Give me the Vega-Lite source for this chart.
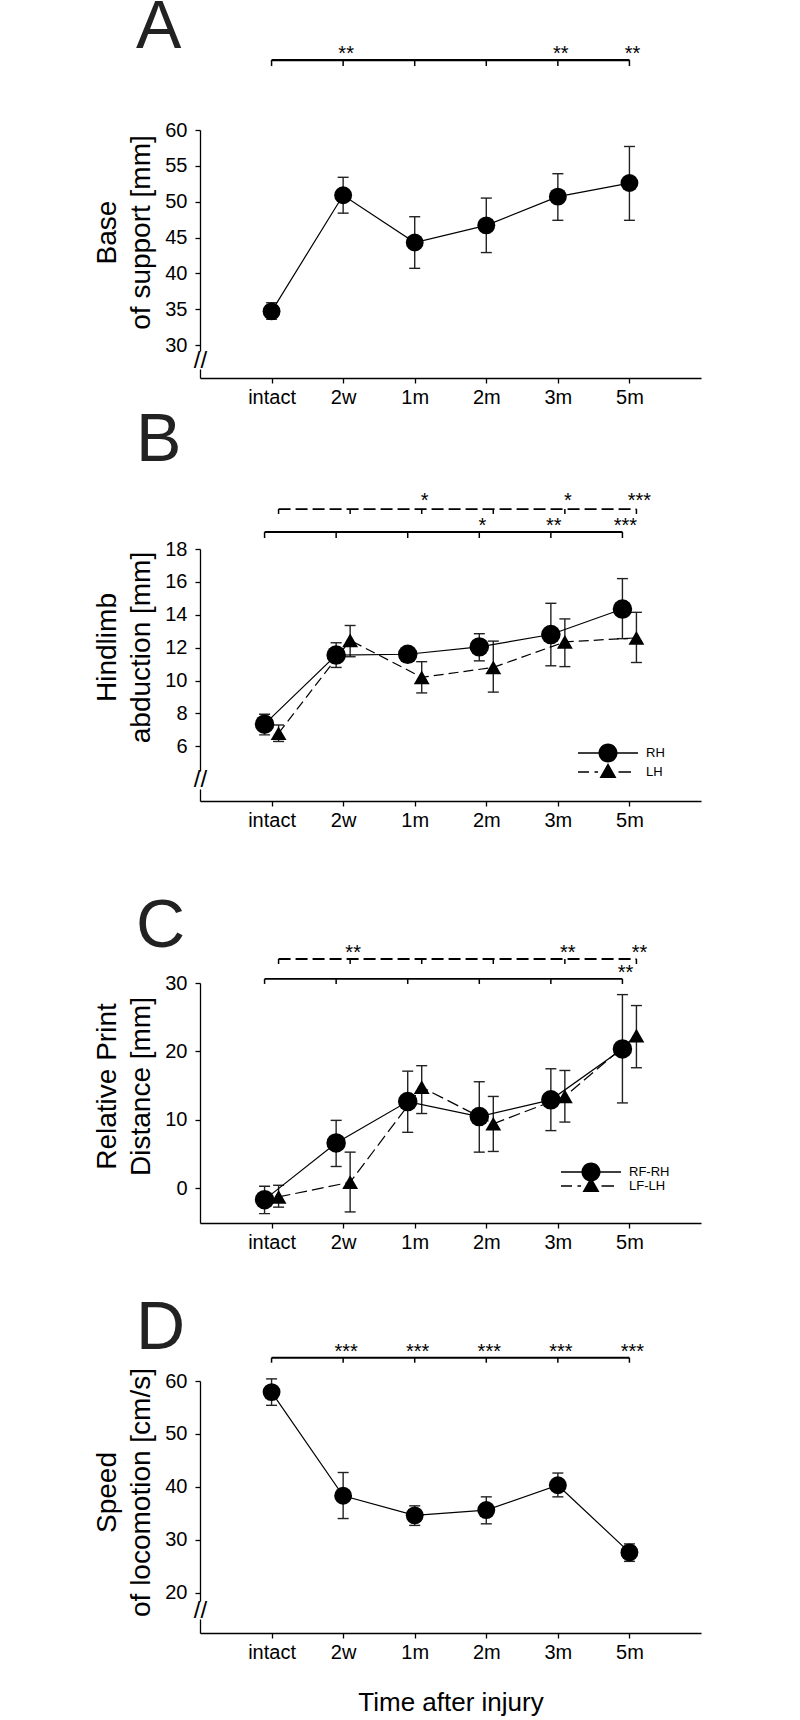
{
  "$schema": "https://vega.github.io/schema/vega-lite/v6.json",
  "padding": {"left": 93, "top": -6, "right": 10, "bottom": 5},
  "config": {
    "font": "Liberation Sans",
    "view": {"stroke": null},
    "axis": {"grid": false, "domainColor": "black", "tickColor": "black", "labelColor": "black", "titleColor": "black", "labelFontSize": 20, "titleFontSize": 28, "titleFontWeight": "normal", "tickSize": 5, "domainWidth": 1.3, "tickWidth": 1.3, "labelFont": "Liberation Sans", "titleFont": "Liberation Sans"},
    "axisX": {"labelPadding": 4, "labelAngle": 0},
    "axisY": {"labelPadding": 8, "titlePadding": 9, "titleLineHeight": 34, "labelOverlap": false, "labelFlush": false},
    "title": {"fontSize": 68, "fontWeight": "normal", "anchor": "start", "frame": "group", "color": "#222", "dx": -64, "baseline": "alphabetic", "font": "Liberation Sans"},
    "legend": {"title": null, "padding": 0, "labelFontSize": 13, "labelColor": "black", "labelFont": "Liberation Sans", "labelOffset": 28, "symbolSize": 400, "symbolFillColor": "black", "symbolStrokeColor": "black", "symbolStrokeWidth": 0, "symbolOpacity": 1, "orient": "none"},
    "text": {"font": "Liberation Sans"}
  },
  "datasets": {
    "means": [
      {"panel": "A", "series": "S", "time": "intact", "mean": 34.7, "lo": 33.6, "hi": 35.9},
      {"panel": "A", "series": "S", "time": "2w", "mean": 50.9, "lo": 48.4, "hi": 53.4},
      {"panel": "A", "series": "S", "time": "1m", "mean": 44.3, "lo": 40.7, "hi": 47.9},
      {"panel": "A", "series": "S", "time": "2m", "mean": 46.7, "lo": 42.9, "hi": 50.5},
      {"panel": "A", "series": "S", "time": "3m", "mean": 50.7, "lo": 47.4, "hi": 53.9},
      {"panel": "A", "series": "S", "time": "5m", "mean": 52.6, "lo": 47.4, "hi": 57.7},
      {"panel": "B", "series": "RH", "time": "intact", "mean": 7.35, "lo": 6.7, "hi": 7.95},
      {"panel": "B", "series": "RH", "time": "2w", "mean": 11.55, "lo": 10.8, "hi": 12.3},
      {"panel": "B", "series": "RH", "time": "1m", "mean": 11.6, "lo": 11.45, "hi": 11.75},
      {"panel": "B", "series": "RH", "time": "2m", "mean": 12.05, "lo": 11.2, "hi": 12.85},
      {"panel": "B", "series": "RH", "time": "3m", "mean": 12.8, "lo": 10.9, "hi": 14.7},
      {"panel": "B", "series": "RH", "time": "5m", "mean": 14.35, "lo": 12.55, "hi": 16.2},
      {"panel": "B", "series": "LH", "time": "intact", "mean": 6.8, "lo": 6.3, "hi": 7.3},
      {"panel": "B", "series": "LH", "time": "2w", "mean": 12.45, "lo": 11.45, "hi": 13.35},
      {"panel": "B", "series": "LH", "time": "1m", "mean": 10.2, "lo": 9.25, "hi": 11.15},
      {"panel": "B", "series": "LH", "time": "2m", "mean": 10.8, "lo": 9.3, "hi": 12.4},
      {"panel": "B", "series": "LH", "time": "3m", "mean": 12.35, "lo": 10.85, "hi": 13.75},
      {"panel": "B", "series": "LH", "time": "5m", "mean": 12.6, "lo": 11.1, "hi": 14.15},
      {"panel": "C", "series": "RF-RH", "time": "intact", "mean": -1.7, "lo": -3.75, "hi": 0.25},
      {"panel": "C", "series": "RF-RH", "time": "2w", "mean": 6.6, "lo": 3.15, "hi": 9.9},
      {"panel": "C", "series": "RF-RH", "time": "1m", "mean": 12.65, "lo": 8.15, "hi": 17.1},
      {"panel": "C", "series": "RF-RH", "time": "2m", "mean": 10.45, "lo": 5.25, "hi": 15.55},
      {"panel": "C", "series": "RF-RH", "time": "3m", "mean": 12.9, "lo": 8.4, "hi": 17.45},
      {"panel": "C", "series": "RF-RH", "time": "5m", "mean": 20.35, "lo": 12.45, "hi": 28.3},
      {"panel": "C", "series": "LF-LH", "time": "intact", "mean": -1.3, "lo": -2.8, "hi": 0.4},
      {"panel": "C", "series": "LF-LH", "time": "2w", "mean": 0.85, "lo": -3.5, "hi": 5.25},
      {"panel": "C", "series": "LF-LH", "time": "1m", "mean": 14.75, "lo": 10.9, "hi": 17.9},
      {"panel": "C", "series": "LF-LH", "time": "2m", "mean": 9.4, "lo": 5.35, "hi": 13.4},
      {"panel": "C", "series": "LF-LH", "time": "3m", "mean": 13.4, "lo": 9.65, "hi": 17.2},
      {"panel": "C", "series": "LF-LH", "time": "5m", "mean": 22.3, "lo": 17.6, "hi": 26.7},
      {"panel": "D", "series": "S", "time": "intact", "mean": 57.9, "lo": 55.4, "hi": 60.4},
      {"panel": "D", "series": "S", "time": "2w", "mean": 38.3, "lo": 34.0, "hi": 42.7},
      {"panel": "D", "series": "S", "time": "1m", "mean": 34.6, "lo": 32.7, "hi": 36.4},
      {"panel": "D", "series": "S", "time": "2m", "mean": 35.6, "lo": 33.0, "hi": 38.1},
      {"panel": "D", "series": "S", "time": "3m", "mean": 40.3, "lo": 38.1, "hi": 42.6},
      {"panel": "D", "series": "S", "time": "5m", "mean": 27.6, "lo": 25.9, "hi": 29.2}
    ],
    "sigbars": [
      {"panel": "A", "bar": "solid", "from": "intact", "to": "5m"},
      {"panel": "B", "bar": "solid", "from": "intact", "to": "5m"},
      {"panel": "B", "bar": "dashed", "from": "intact", "to": "5m"},
      {"panel": "C", "bar": "solid", "from": "intact", "to": "5m"},
      {"panel": "C", "bar": "dashed", "from": "intact", "to": "5m"},
      {"panel": "D", "bar": "solid", "from": "intact", "to": "5m"}
    ],
    "sigmarks": [
      {"panel": "A", "bar": "solid", "time": "intact", "stars": ""},
      {"panel": "A", "bar": "solid", "time": "2w", "stars": "**"},
      {"panel": "A", "bar": "solid", "time": "1m", "stars": ""},
      {"panel": "A", "bar": "solid", "time": "2m", "stars": ""},
      {"panel": "A", "bar": "solid", "time": "3m", "stars": "**"},
      {"panel": "A", "bar": "solid", "time": "5m", "stars": "**"},
      {"panel": "B", "bar": "solid", "time": "intact", "stars": ""},
      {"panel": "B", "bar": "solid", "time": "2w", "stars": ""},
      {"panel": "B", "bar": "solid", "time": "1m", "stars": ""},
      {"panel": "B", "bar": "solid", "time": "2m", "stars": "*"},
      {"panel": "B", "bar": "solid", "time": "3m", "stars": "**"},
      {"panel": "B", "bar": "solid", "time": "5m", "stars": "***"},
      {"panel": "B", "bar": "dashed", "time": "intact", "stars": ""},
      {"panel": "B", "bar": "dashed", "time": "2w", "stars": ""},
      {"panel": "B", "bar": "dashed", "time": "1m", "stars": "*"},
      {"panel": "B", "bar": "dashed", "time": "2m", "stars": ""},
      {"panel": "B", "bar": "dashed", "time": "3m", "stars": "*"},
      {"panel": "B", "bar": "dashed", "time": "5m", "stars": "***"},
      {"panel": "C", "bar": "solid", "time": "intact", "stars": ""},
      {"panel": "C", "bar": "solid", "time": "2w", "stars": ""},
      {"panel": "C", "bar": "solid", "time": "1m", "stars": ""},
      {"panel": "C", "bar": "solid", "time": "2m", "stars": ""},
      {"panel": "C", "bar": "solid", "time": "3m", "stars": ""},
      {"panel": "C", "bar": "solid", "time": "5m", "stars": "**"},
      {"panel": "C", "bar": "dashed", "time": "intact", "stars": ""},
      {"panel": "C", "bar": "dashed", "time": "2w", "stars": "**"},
      {"panel": "C", "bar": "dashed", "time": "1m", "stars": ""},
      {"panel": "C", "bar": "dashed", "time": "2m", "stars": ""},
      {"panel": "C", "bar": "dashed", "time": "3m", "stars": "**"},
      {"panel": "C", "bar": "dashed", "time": "5m", "stars": "**"},
      {"panel": "D", "bar": "solid", "time": "intact", "stars": ""},
      {"panel": "D", "bar": "solid", "time": "2w", "stars": "***"},
      {"panel": "D", "bar": "solid", "time": "1m", "stars": "***"},
      {"panel": "D", "bar": "solid", "time": "2m", "stars": "***"},
      {"panel": "D", "bar": "solid", "time": "3m", "stars": "***"},
      {"panel": "D", "bar": "solid", "time": "5m", "stars": "***"}
    ]
  },
  "spacing": 150,
  "bounds": "flush",
  "resolve": {"scale": {"fill": "independent", "stroke": "independent"}, "legend": {"fill": "independent", "stroke": "independent"}},
  "vconcat": [
    {
      "width": 501, "height": 248,
      "title": {"text": "A", "offset": -18},
      "encoding": {
        "x": {"field": "time", "type": "ordinal", "scale": {"type": "point", "domain": ["intact", "2w", "1m", "2m", "3m", "5m"], "padding": 1}, "axis": {"title": null}}
      },
      "layer": [
        {"data": {"name": "means"}, "transform": [{"filter": "datum.panel == 'A'"}], "mark": {"type": "rule", "color": "#222", "strokeWidth": 1.4},
          "encoding": {"y": {"field": "lo", "type": "quantitative", "axis": {"title": ["Base", "of support [mm]"], "titleY": 102, "values": [27.9, 30, 35, 40, 45, 50, 55, 60], "labelOverlap": false, "labelExpr": "datum.value < 29 ? '//' : datum.label", "labelAlign": {"condition": {"test": "datum.value < 29", "value": "center"}, "value": "right"}, "labelPadding": {"condition": {"test": "datum.value < 29", "value": -5}, "value": 8}, "labelFontSize": {"condition": {"test": "datum.value < 29", "value": 24}, "value": 20}, "tickOpacity": {"condition": {"test": "datum.value < 29", "value": 0}, "value": 1}, "domainDash": [9, 18, 1000]}}, "y2": {"field": "hi"}}},
        {"data": {"name": "means"}, "transform": [{"filter": "datum.panel == 'A'"}], "mark": {"type": "tick", "color": "#222", "thickness": 1.4, "size": 11, "opacity": 1},
          "encoding": {"y": {"field": "lo", "type": "quantitative", "axis": {"title": ["Base", "of support [mm]"], "titleY": 102, "values": [27.9, 30, 35, 40, 45, 50, 55, 60], "labelOverlap": false, "labelExpr": "datum.value < 29 ? '//' : datum.label", "labelAlign": {"condition": {"test": "datum.value < 29", "value": "center"}, "value": "right"}, "labelPadding": {"condition": {"test": "datum.value < 29", "value": -5}, "value": 8}, "labelFontSize": {"condition": {"test": "datum.value < 29", "value": 24}, "value": 20}, "tickOpacity": {"condition": {"test": "datum.value < 29", "value": 0}, "value": 1}, "domainDash": [9, 18, 1000]}}}},
        {"data": {"name": "means"}, "transform": [{"filter": "datum.panel == 'A'"}], "mark": {"type": "tick", "color": "#222", "thickness": 1.4, "size": 11, "opacity": 1},
          "encoding": {"y": {"field": "hi", "type": "quantitative", "axis": {"title": ["Base", "of support [mm]"], "titleY": 102, "values": [27.9, 30, 35, 40, 45, 50, 55, 60], "labelOverlap": false, "labelExpr": "datum.value < 29 ? '//' : datum.label", "labelAlign": {"condition": {"test": "datum.value < 29", "value": "center"}, "value": "right"}, "labelPadding": {"condition": {"test": "datum.value < 29", "value": -5}, "value": 8}, "labelFontSize": {"condition": {"test": "datum.value < 29", "value": 24}, "value": 20}, "tickOpacity": {"condition": {"test": "datum.value < 29", "value": 0}, "value": 1}, "domainDash": [9, 18, 1000]}}}},
        {"data": {"name": "means"}, "transform": [{"filter": "datum.panel == 'A'"}], "mark": {"type": "line", "color": "black", "strokeWidth": 1.2},
          "encoding": {"y": {"field": "mean", "type": "quantitative", "axis": {"title": ["Base", "of support [mm]"], "titleY": 102, "values": [27.9, 30, 35, 40, 45, 50, 55, 60], "labelOverlap": false, "labelExpr": "datum.value < 29 ? '//' : datum.label", "labelAlign": {"condition": {"test": "datum.value < 29", "value": "center"}, "value": "right"}, "labelPadding": {"condition": {"test": "datum.value < 29", "value": -5}, "value": 8}, "labelFontSize": {"condition": {"test": "datum.value < 29", "value": 24}, "value": 20}, "tickOpacity": {"condition": {"test": "datum.value < 29", "value": 0}, "value": 1}, "domainDash": [9, 18, 1000]}}, "order": {"value": null}}},
        {"data": {"name": "means"}, "transform": [{"filter": "datum.panel == 'A'"}], "mark": {"type": "point", "filled": true, "color": "black", "opacity": 1, "shape": "circle", "size": 320},
          "encoding": {"y": {"field": "mean", "type": "quantitative", "scale": {"domain": [25.4, 60], "nice": false, "zero": false}, "axis": {"title": ["Base", "of support [mm]"], "titleY": 102, "values": [27.9, 30, 35, 40, 45, 50, 55, 60], "labelOverlap": false, "labelExpr": "datum.value < 29 ? '//' : datum.label", "labelAlign": {"condition": {"test": "datum.value < 29", "value": "center"}, "value": "right"}, "labelPadding": {"condition": {"test": "datum.value < 29", "value": -5}, "value": 8}, "labelFontSize": {"condition": {"test": "datum.value < 29", "value": 24}, "value": 20}, "tickOpacity": {"condition": {"test": "datum.value < 29", "value": 0}, "value": 1}, "domainDash": [9, 18, 1000]}}}},
        {"data": {"name": "sigbars"}, "transform": [{"filter": "datum.panel == 'A'"}], "mark": {"type": "rule", "color": "black", "strokeWidth": 2.2},
          "encoding": {"x": {"field": "from", "type": "ordinal"}, "x2": {"field": "to"}, "y": {"datum": 69.76, "type": "quantitative", "axis": {"title": ["Base", "of support [mm]"], "titleY": 102, "values": [27.9, 30, 35, 40, 45, 50, 55, 60], "labelOverlap": false, "labelExpr": "datum.value < 29 ? '//' : datum.label", "labelAlign": {"condition": {"test": "datum.value < 29", "value": "center"}, "value": "right"}, "labelPadding": {"condition": {"test": "datum.value < 29", "value": -5}, "value": 8}, "labelFontSize": {"condition": {"test": "datum.value < 29", "value": 24}, "value": 20}, "tickOpacity": {"condition": {"test": "datum.value < 29", "value": 0}, "value": 1}, "domainDash": [9, 18, 1000]}}}},
        {"data": {"name": "sigmarks"}, "transform": [{"filter": "datum.panel == 'A'"}], "mark": {"type": "rule", "color": "black", "strokeWidth": 1.5},
          "encoding": {"y": {"datum": 69.76, "type": "quantitative", "axis": {"title": ["Base", "of support [mm]"], "titleY": 102, "values": [27.9, 30, 35, 40, 45, 50, 55, 60], "labelOverlap": false, "labelExpr": "datum.value < 29 ? '//' : datum.label", "labelAlign": {"condition": {"test": "datum.value < 29", "value": "center"}, "value": "right"}, "labelPadding": {"condition": {"test": "datum.value < 29", "value": -5}, "value": 8}, "labelFontSize": {"condition": {"test": "datum.value < 29", "value": 24}, "value": 20}, "tickOpacity": {"condition": {"test": "datum.value < 29", "value": 0}, "value": 1}, "domainDash": [9, 18, 1000]}}, "y2": {"datum": 68.92}}},
        {"data": {"name": "sigmarks"}, "transform": [{"filter": "datum.panel == 'A'"}], "mark": {"type": "text", "fontSize": 20, "baseline": "alphabetic", "dx": 3, "color": "black"},
          "encoding": {"y": {"datum": 69.76, "type": "quantitative", "axis": {"title": ["Base", "of support [mm]"], "titleY": 102, "values": [27.9, 30, 35, 40, 45, 50, 55, 60], "labelOverlap": false, "labelExpr": "datum.value < 29 ? '//' : datum.label", "labelAlign": {"condition": {"test": "datum.value < 29", "value": "center"}, "value": "right"}, "labelPadding": {"condition": {"test": "datum.value < 29", "value": -5}, "value": 8}, "labelFontSize": {"condition": {"test": "datum.value < 29", "value": 24}, "value": 20}, "tickOpacity": {"condition": {"test": "datum.value < 29", "value": 0}, "value": 1}, "domainDash": [9, 18, 1000]}}, "text": {"field": "stars", "type": "nominal"}}}
      ]
    },
    {
      "width": 501, "height": 273,
      "title": {"text": "B", "offset": 16},
      "encoding": {
        "x": {"field": "time", "type": "ordinal", "scale": {"type": "point", "domain": ["intact", "2w", "1m", "2m", "3m", "5m"], "padding": 1}, "axis": {"title": null}}
      },
      "layer": [
        {"data": {"name": "means"}, "transform": [{"filter": "datum.panel == 'B' && datum.series == 'RH'"}], "mark": {"type": "rule", "color": "#222", "strokeWidth": 1.4, "xOffset": -7},
          "encoding": {"y": {"field": "lo", "type": "quantitative", "axis": {"title": ["Hindlimb", "abduction [mm]"], "titleY": 119, "values": [3.97, 6, 8, 10, 12, 14, 16, 18], "labelOverlap": false, "labelExpr": "datum.value < 5 ? '//' : datum.label", "labelAlign": {"condition": {"test": "datum.value < 5", "value": "center"}, "value": "right"}, "labelPadding": {"condition": {"test": "datum.value < 5", "value": -5}, "value": 8}, "labelFontSize": {"condition": {"test": "datum.value < 5", "value": 24}, "value": 20}, "tickOpacity": {"condition": {"test": "datum.value < 5", "value": 0}, "value": 1}, "domainDash": [12, 18, 1000]}}, "y2": {"field": "hi"}}},
        {"data": {"name": "means"}, "transform": [{"filter": "datum.panel == 'B' && datum.series == 'RH'"}], "mark": {"type": "tick", "color": "#222", "thickness": 1.4, "size": 11, "opacity": 1, "xOffset": -7},
          "encoding": {"y": {"field": "lo", "type": "quantitative", "axis": {"title": ["Hindlimb", "abduction [mm]"], "titleY": 119, "values": [3.97, 6, 8, 10, 12, 14, 16, 18], "labelOverlap": false, "labelExpr": "datum.value < 5 ? '//' : datum.label", "labelAlign": {"condition": {"test": "datum.value < 5", "value": "center"}, "value": "right"}, "labelPadding": {"condition": {"test": "datum.value < 5", "value": -5}, "value": 8}, "labelFontSize": {"condition": {"test": "datum.value < 5", "value": 24}, "value": 20}, "tickOpacity": {"condition": {"test": "datum.value < 5", "value": 0}, "value": 1}, "domainDash": [12, 18, 1000]}}}},
        {"data": {"name": "means"}, "transform": [{"filter": "datum.panel == 'B' && datum.series == 'RH'"}], "mark": {"type": "tick", "color": "#222", "thickness": 1.4, "size": 11, "opacity": 1, "xOffset": -7},
          "encoding": {"y": {"field": "hi", "type": "quantitative", "axis": {"title": ["Hindlimb", "abduction [mm]"], "titleY": 119, "values": [3.97, 6, 8, 10, 12, 14, 16, 18], "labelOverlap": false, "labelExpr": "datum.value < 5 ? '//' : datum.label", "labelAlign": {"condition": {"test": "datum.value < 5", "value": "center"}, "value": "right"}, "labelPadding": {"condition": {"test": "datum.value < 5", "value": -5}, "value": 8}, "labelFontSize": {"condition": {"test": "datum.value < 5", "value": 24}, "value": 20}, "tickOpacity": {"condition": {"test": "datum.value < 5", "value": 0}, "value": 1}, "domainDash": [12, 18, 1000]}}}},
        {"data": {"name": "means"}, "transform": [{"filter": "datum.panel == 'B' && datum.series == 'LH'"}], "mark": {"type": "rule", "color": "#222", "strokeWidth": 1.4, "xOffset": 7},
          "encoding": {"y": {"field": "lo", "type": "quantitative", "axis": {"title": ["Hindlimb", "abduction [mm]"], "titleY": 119, "values": [3.97, 6, 8, 10, 12, 14, 16, 18], "labelOverlap": false, "labelExpr": "datum.value < 5 ? '//' : datum.label", "labelAlign": {"condition": {"test": "datum.value < 5", "value": "center"}, "value": "right"}, "labelPadding": {"condition": {"test": "datum.value < 5", "value": -5}, "value": 8}, "labelFontSize": {"condition": {"test": "datum.value < 5", "value": 24}, "value": 20}, "tickOpacity": {"condition": {"test": "datum.value < 5", "value": 0}, "value": 1}, "domainDash": [12, 18, 1000]}}, "y2": {"field": "hi"}}},
        {"data": {"name": "means"}, "transform": [{"filter": "datum.panel == 'B' && datum.series == 'LH'"}], "mark": {"type": "tick", "color": "#222", "thickness": 1.4, "size": 11, "opacity": 1, "xOffset": 7},
          "encoding": {"y": {"field": "lo", "type": "quantitative", "axis": {"title": ["Hindlimb", "abduction [mm]"], "titleY": 119, "values": [3.97, 6, 8, 10, 12, 14, 16, 18], "labelOverlap": false, "labelExpr": "datum.value < 5 ? '//' : datum.label", "labelAlign": {"condition": {"test": "datum.value < 5", "value": "center"}, "value": "right"}, "labelPadding": {"condition": {"test": "datum.value < 5", "value": -5}, "value": 8}, "labelFontSize": {"condition": {"test": "datum.value < 5", "value": 24}, "value": 20}, "tickOpacity": {"condition": {"test": "datum.value < 5", "value": 0}, "value": 1}, "domainDash": [12, 18, 1000]}}}},
        {"data": {"name": "means"}, "transform": [{"filter": "datum.panel == 'B' && datum.series == 'LH'"}], "mark": {"type": "tick", "color": "#222", "thickness": 1.4, "size": 11, "opacity": 1, "xOffset": 7},
          "encoding": {"y": {"field": "hi", "type": "quantitative", "axis": {"title": ["Hindlimb", "abduction [mm]"], "titleY": 119, "values": [3.97, 6, 8, 10, 12, 14, 16, 18], "labelOverlap": false, "labelExpr": "datum.value < 5 ? '//' : datum.label", "labelAlign": {"condition": {"test": "datum.value < 5", "value": "center"}, "value": "right"}, "labelPadding": {"condition": {"test": "datum.value < 5", "value": -5}, "value": 8}, "labelFontSize": {"condition": {"test": "datum.value < 5", "value": 24}, "value": 20}, "tickOpacity": {"condition": {"test": "datum.value < 5", "value": 0}, "value": 1}, "domainDash": [12, 18, 1000]}}}},
        {"data": {"name": "means"}, "transform": [{"filter": "datum.panel == 'B' && datum.series == 'RH'"}], "mark": {"type": "line", "color": "black", "strokeWidth": 1.2, "xOffset": -7},
          "encoding": {"y": {"field": "mean", "type": "quantitative", "axis": {"title": ["Hindlimb", "abduction [mm]"], "titleY": 119, "values": [3.97, 6, 8, 10, 12, 14, 16, 18], "labelOverlap": false, "labelExpr": "datum.value < 5 ? '//' : datum.label", "labelAlign": {"condition": {"test": "datum.value < 5", "value": "center"}, "value": "right"}, "labelPadding": {"condition": {"test": "datum.value < 5", "value": -5}, "value": 8}, "labelFontSize": {"condition": {"test": "datum.value < 5", "value": 24}, "value": 20}, "tickOpacity": {"condition": {"test": "datum.value < 5", "value": 0}, "value": 1}, "domainDash": [12, 18, 1000]}}, "order": {"value": null}}},
        {"data": {"name": "means"}, "transform": [{"filter": "datum.panel == 'B' && datum.series == 'LH'"}], "mark": {"type": "line", "color": "black", "strokeWidth": 1.2, "xOffset": 7, "strokeDash": [10, 5]},
          "encoding": {"y": {"field": "mean", "type": "quantitative", "axis": {"title": ["Hindlimb", "abduction [mm]"], "titleY": 119, "values": [3.97, 6, 8, 10, 12, 14, 16, 18], "labelOverlap": false, "labelExpr": "datum.value < 5 ? '//' : datum.label", "labelAlign": {"condition": {"test": "datum.value < 5", "value": "center"}, "value": "right"}, "labelPadding": {"condition": {"test": "datum.value < 5", "value": -5}, "value": 8}, "labelFontSize": {"condition": {"test": "datum.value < 5", "value": 24}, "value": 20}, "tickOpacity": {"condition": {"test": "datum.value < 5", "value": 0}, "value": 1}, "domainDash": [12, 18, 1000]}}, "order": {"value": null}}},
        {"data": {"name": "means"}, "transform": [{"filter": "datum.panel == 'B' && datum.series == 'LH'"}], "mark": {"type": "point", "filled": true, "color": "black", "opacity": 1, "shape": "triangle-up", "size": 250, "xOffset": 7},
          "encoding": {"y": {"field": "mean", "type": "quantitative", "axis": {"title": ["Hindlimb", "abduction [mm]"], "titleY": 119, "values": [3.97, 6, 8, 10, 12, 14, 16, 18], "labelOverlap": false, "labelExpr": "datum.value < 5 ? '//' : datum.label", "labelAlign": {"condition": {"test": "datum.value < 5", "value": "center"}, "value": "right"}, "labelPadding": {"condition": {"test": "datum.value < 5", "value": -5}, "value": 8}, "labelFontSize": {"condition": {"test": "datum.value < 5", "value": 24}, "value": 20}, "tickOpacity": {"condition": {"test": "datum.value < 5", "value": 0}, "value": 1}, "domainDash": [12, 18, 1000]}}}},
        {"data": {"name": "means"}, "transform": [{"filter": "datum.panel == 'B' && datum.series == 'RH'"}], "mark": {"type": "point", "filled": true, "color": "black", "opacity": 1, "shape": "circle", "size": 380, "xOffset": -7},
          "encoding": {"y": {"field": "mean", "type": "quantitative", "scale": {"domain": [2.68, 18], "range": [273, 21], "nice": false, "zero": false}, "axis": {"title": ["Hindlimb", "abduction [mm]"], "titleY": 119, "values": [3.97, 6, 8, 10, 12, 14, 16, 18], "labelOverlap": false, "labelExpr": "datum.value < 5 ? '//' : datum.label", "labelAlign": {"condition": {"test": "datum.value < 5", "value": "center"}, "value": "right"}, "labelPadding": {"condition": {"test": "datum.value < 5", "value": -5}, "value": 8}, "labelFontSize": {"condition": {"test": "datum.value < 5", "value": 24}, "value": 20}, "tickOpacity": {"condition": {"test": "datum.value < 5", "value": 0}, "value": 1}, "domainDash": [12, 18, 1000]}}}},
        {"data": {"name": "sigbars"}, "transform": [{"filter": "datum.panel == 'B' && datum.bar == 'solid'"}], "mark": {"type": "rule", "color": "black", "strokeWidth": 2, "xOffset": -7, "x2Offset": -7},
          "encoding": {"x": {"field": "from", "type": "ordinal"}, "x2": {"field": "to"}, "y": {"datum": 19.03, "type": "quantitative", "axis": {"title": ["Hindlimb", "abduction [mm]"], "titleY": 119, "values": [3.97, 6, 8, 10, 12, 14, 16, 18], "labelOverlap": false, "labelExpr": "datum.value < 5 ? '//' : datum.label", "labelAlign": {"condition": {"test": "datum.value < 5", "value": "center"}, "value": "right"}, "labelPadding": {"condition": {"test": "datum.value < 5", "value": -5}, "value": 8}, "labelFontSize": {"condition": {"test": "datum.value < 5", "value": 24}, "value": 20}, "tickOpacity": {"condition": {"test": "datum.value < 5", "value": 0}, "value": 1}, "domainDash": [12, 18, 1000]}}}},
        {"data": {"name": "sigmarks"}, "transform": [{"filter": "datum.panel == 'B' && datum.bar == 'solid'"}], "mark": {"type": "rule", "color": "black", "strokeWidth": 1.5, "xOffset": -7},
          "encoding": {"y": {"datum": 19.03, "type": "quantitative", "axis": {"title": ["Hindlimb", "abduction [mm]"], "titleY": 119, "values": [3.97, 6, 8, 10, 12, 14, 16, 18], "labelOverlap": false, "labelExpr": "datum.value < 5 ? '//' : datum.label", "labelAlign": {"condition": {"test": "datum.value < 5", "value": "center"}, "value": "right"}, "labelPadding": {"condition": {"test": "datum.value < 5", "value": -5}, "value": 8}, "labelFontSize": {"condition": {"test": "datum.value < 5", "value": 24}, "value": 20}, "tickOpacity": {"condition": {"test": "datum.value < 5", "value": 0}, "value": 1}, "domainDash": [12, 18, 1000]}}, "y2": {"datum": 18.67}}},
        {"data": {"name": "sigmarks"}, "transform": [{"filter": "datum.panel == 'B' && datum.bar == 'solid'"}], "mark": {"type": "text", "fontSize": 20, "baseline": "alphabetic", "dx": -4, "color": "black"},
          "encoding": {"y": {"datum": 19.03, "type": "quantitative", "axis": {"title": ["Hindlimb", "abduction [mm]"], "titleY": 119, "values": [3.97, 6, 8, 10, 12, 14, 16, 18], "labelOverlap": false, "labelExpr": "datum.value < 5 ? '//' : datum.label", "labelAlign": {"condition": {"test": "datum.value < 5", "value": "center"}, "value": "right"}, "labelPadding": {"condition": {"test": "datum.value < 5", "value": -5}, "value": 8}, "labelFontSize": {"condition": {"test": "datum.value < 5", "value": 24}, "value": 20}, "tickOpacity": {"condition": {"test": "datum.value < 5", "value": 0}, "value": 1}, "domainDash": [12, 18, 1000]}}, "text": {"field": "stars", "type": "nominal"}}},
        {"data": {"name": "sigbars"}, "transform": [{"filter": "datum.panel == 'B' && datum.bar == 'dashed'"}], "mark": {"type": "rule", "color": "black", "strokeWidth": 1.8, "xOffset": 7, "x2Offset": 7, "strokeDash": [12, 5]},
          "encoding": {"x": {"field": "from", "type": "ordinal"}, "x2": {"field": "to"}, "y": {"datum": 20.43, "type": "quantitative", "axis": {"title": ["Hindlimb", "abduction [mm]"], "titleY": 119, "values": [3.97, 6, 8, 10, 12, 14, 16, 18], "labelOverlap": false, "labelExpr": "datum.value < 5 ? '//' : datum.label", "labelAlign": {"condition": {"test": "datum.value < 5", "value": "center"}, "value": "right"}, "labelPadding": {"condition": {"test": "datum.value < 5", "value": -5}, "value": 8}, "labelFontSize": {"condition": {"test": "datum.value < 5", "value": 24}, "value": 20}, "tickOpacity": {"condition": {"test": "datum.value < 5", "value": 0}, "value": 1}, "domainDash": [12, 18, 1000]}}}},
        {"data": {"name": "sigmarks"}, "transform": [{"filter": "datum.panel == 'B' && datum.bar == 'dashed'"}], "mark": {"type": "rule", "color": "black", "strokeWidth": 1.5, "xOffset": 7},
          "encoding": {"y": {"datum": 20.43, "type": "quantitative", "axis": {"title": ["Hindlimb", "abduction [mm]"], "titleY": 119, "values": [3.97, 6, 8, 10, 12, 14, 16, 18], "labelOverlap": false, "labelExpr": "datum.value < 5 ? '//' : datum.label", "labelAlign": {"condition": {"test": "datum.value < 5", "value": "center"}, "value": "right"}, "labelPadding": {"condition": {"test": "datum.value < 5", "value": -5}, "value": 8}, "labelFontSize": {"condition": {"test": "datum.value < 5", "value": 24}, "value": 20}, "tickOpacity": {"condition": {"test": "datum.value < 5", "value": 0}, "value": 1}, "domainDash": [12, 18, 1000]}}, "y2": {"datum": 20.13}}},
        {"data": {"name": "sigmarks"}, "transform": [{"filter": "datum.panel == 'B' && datum.bar == 'dashed'"}], "mark": {"type": "text", "fontSize": 20, "baseline": "alphabetic", "dx": 10, "dy": -2, "color": "black"},
          "encoding": {"y": {"datum": 20.43, "type": "quantitative", "axis": {"title": ["Hindlimb", "abduction [mm]"], "titleY": 119, "values": [3.97, 6, 8, 10, 12, 14, 16, 18], "labelOverlap": false, "labelExpr": "datum.value < 5 ? '//' : datum.label", "labelAlign": {"condition": {"test": "datum.value < 5", "value": "center"}, "value": "right"}, "labelPadding": {"condition": {"test": "datum.value < 5", "value": -5}, "value": 8}, "labelFontSize": {"condition": {"test": "datum.value < 5", "value": 24}, "value": 20}, "tickOpacity": {"condition": {"test": "datum.value < 5", "value": 0}, "value": 1}, "domainDash": [12, 18, 1000]}}, "text": {"field": "stars", "type": "nominal"}}},
        {"data": {"name": "means"}, "transform": [{"filter": "false"}], "mark": {"type": "point", "filled": true, "color": "black", "opacity": 1, "size": 400},
          "encoding": {"fill": {"field": "series", "type": "nominal", "scale": {"domain": ["RH"], "range": ["black"]},
            "legend": {"legendX": 398, "legendY": 215, "symbolType": "M-3,-0.07H3V0.07H-3ZM0.95,0A0.95,0.95,0,1,1,-0.95,0A0.95,0.95,0,1,1,0.95,0Z"}}}},
        {"data": {"name": "means"}, "transform": [{"filter": "false"}], "mark": {"type": "point", "filled": true, "color": "black", "opacity": 1, "size": 400},
          "encoding": {"stroke": {"field": "time", "type": "nominal", "scale": {"domain": ["LH"], "range": ["black"]},
            "legend": {"legendX": 398, "legendY": 234, "symbolType": "M-3,-0.07H-1.9V0.07H-3ZM-1.35,-0.07H-1V0.07H-1.35ZM1.05,-0.07H2.3V0.07H1.05ZM0,-0.9L0.85,0.6L-0.85,0.6Z"}}}}
      ]
    },
    {
      "width": 501, "height": 272,
      "title": {"text": "C", "offset": -18},
      "encoding": {
        "x": {"field": "time", "type": "ordinal", "scale": {"type": "point", "domain": ["intact", "2w", "1m", "2m", "3m", "5m"], "padding": 1}, "axis": {"title": null}}
      },
      "layer": [
        {"data": {"name": "means"}, "transform": [{"filter": "datum.panel == 'C' && datum.series == 'RF-RH'"}], "mark": {"type": "rule", "color": "#222", "strokeWidth": 1.4, "xOffset": -7}, "encoding": {"y": {"field": "lo", "type": "quantitative"}, "y2": {"field": "hi"}}},
        {"data": {"name": "means"}, "transform": [{"filter": "datum.panel == 'C' && datum.series == 'RF-RH'"}], "mark": {"type": "tick", "color": "#222", "thickness": 1.4, "size": 11, "opacity": 1, "xOffset": -7}, "encoding": {"y": {"field": "lo", "type": "quantitative"}}},
        {"data": {"name": "means"}, "transform": [{"filter": "datum.panel == 'C' && datum.series == 'RF-RH'"}], "mark": {"type": "tick", "color": "#222", "thickness": 1.4, "size": 11, "opacity": 1, "xOffset": -7}, "encoding": {"y": {"field": "hi", "type": "quantitative"}}},
        {"data": {"name": "means"}, "transform": [{"filter": "datum.panel == 'C' && datum.series == 'LF-LH'"}], "mark": {"type": "rule", "color": "#222", "strokeWidth": 1.4, "xOffset": 7}, "encoding": {"y": {"field": "lo", "type": "quantitative"}, "y2": {"field": "hi"}}},
        {"data": {"name": "means"}, "transform": [{"filter": "datum.panel == 'C' && datum.series == 'LF-LH'"}], "mark": {"type": "tick", "color": "#222", "thickness": 1.4, "size": 11, "opacity": 1, "xOffset": 7}, "encoding": {"y": {"field": "lo", "type": "quantitative"}}},
        {"data": {"name": "means"}, "transform": [{"filter": "datum.panel == 'C' && datum.series == 'LF-LH'"}], "mark": {"type": "tick", "color": "#222", "thickness": 1.4, "size": 11, "opacity": 1, "xOffset": 7}, "encoding": {"y": {"field": "hi", "type": "quantitative"}}},
        {"data": {"name": "means"}, "transform": [{"filter": "datum.panel == 'C' && datum.series == 'RF-RH'"}], "mark": {"type": "line", "color": "black", "strokeWidth": 1.2, "xOffset": -7}, "encoding": {"y": {"field": "mean", "type": "quantitative"}, "order": {"value": null}}},
        {"data": {"name": "means"}, "transform": [{"filter": "datum.panel == 'C' && datum.series == 'LF-LH'"}], "mark": {"type": "line", "color": "black", "strokeWidth": 1.2, "xOffset": 7, "strokeDash": [12, 5]}, "encoding": {"y": {"field": "mean", "type": "quantitative"}, "order": {"value": null}}},
        {"data": {"name": "means"}, "transform": [{"filter": "datum.panel == 'C' && datum.series == 'LF-LH'"}], "mark": {"type": "point", "filled": true, "color": "black", "opacity": 1, "shape": "triangle-up", "size": 250, "xOffset": 7}, "encoding": {"y": {"field": "mean", "type": "quantitative"}}},
        {"data": {"name": "means"}, "transform": [{"filter": "datum.panel == 'C' && datum.series == 'RF-RH'"}], "mark": {"type": "point", "filled": true, "color": "black", "opacity": 1, "shape": "circle", "size": 380, "xOffset": -7},
          "encoding": {"y": {"field": "mean", "type": "quantitative", "scale": {"domain": [-5.12, 30], "range": [272, 32], "nice": false, "zero": false},
            "axis": {"title": ["Relative Print", "Distance [mm]"], "titleY": 135, "values": [0, 10, 20, 30], "labelOverlap": false}}}},
        {"data": {"name": "sigbars"}, "transform": [{"filter": "datum.panel == 'C' && datum.bar == 'solid'"}], "mark": {"type": "rule", "color": "black", "strokeWidth": 1.8, "xOffset": -7, "x2Offset": -7},
          "encoding": {"x": {"field": "from", "type": "ordinal"}, "x2": {"field": "to"}, "y": {"datum": 30.59, "type": "quantitative"}}},
        {"data": {"name": "sigmarks"}, "transform": [{"filter": "datum.panel == 'C' && datum.bar == 'solid'"}], "mark": {"type": "rule", "color": "black", "strokeWidth": 1.5, "xOffset": -7}, "encoding": {"y": {"datum": 30.59, "type": "quantitative"}, "y2": {"datum": 29.86}}},
        {"data": {"name": "sigmarks"}, "transform": [{"filter": "datum.panel == 'C' && datum.bar == 'solid'"}], "mark": {"type": "text", "fontSize": 20, "baseline": "alphabetic", "dx": -4, "color": "black"}, "encoding": {"y": {"datum": 30.59, "type": "quantitative"}, "text": {"field": "stars", "type": "nominal"}}},
        {"data": {"name": "sigbars"}, "transform": [{"filter": "datum.panel == 'C' && datum.bar == 'dashed'"}], "mark": {"type": "rule", "color": "black", "strokeWidth": 1.8, "xOffset": 7, "x2Offset": 7, "strokeDash": [12, 5]},
          "encoding": {"x": {"field": "from", "type": "ordinal"}, "x2": {"field": "to"}, "y": {"datum": 33.51, "type": "quantitative"}}},
        {"data": {"name": "sigmarks"}, "transform": [{"filter": "datum.panel == 'C' && datum.bar == 'dashed'"}], "mark": {"type": "rule", "color": "black", "strokeWidth": 1.5, "xOffset": 7}, "encoding": {"y": {"datum": 33.51, "type": "quantitative"}, "y2": {"datum": 32.78}}},
        {"data": {"name": "sigmarks"}, "transform": [{"filter": "datum.panel == 'C' && datum.bar == 'dashed'"}], "mark": {"type": "text", "fontSize": 20, "baseline": "alphabetic", "dx": 10, "color": "black"}, "encoding": {"y": {"datum": 33.51, "type": "quantitative"}, "text": {"field": "stars", "type": "nominal"}}},
        {"data": {"name": "means"}, "transform": [{"filter": "false"}], "mark": {"type": "point", "filled": true, "color": "black", "opacity": 1, "size": 400},
          "encoding": {"fill": {"field": "series", "type": "nominal", "scale": {"domain": ["RF-RH"], "range": ["black"]},
            "legend": {"legendX": 381, "legendY": 211, "symbolType": "M-3,-0.07H3V0.07H-3ZM0.95,0A0.95,0.95,0,1,1,-0.95,0A0.95,0.95,0,1,1,0.95,0Z"}}}},
        {"data": {"name": "means"}, "transform": [{"filter": "false"}], "mark": {"type": "point", "filled": true, "color": "black", "opacity": 1, "size": 400},
          "encoding": {"stroke": {"field": "time", "type": "nominal", "scale": {"domain": ["LF-LH"], "range": ["black"]},
            "legend": {"legendX": 381, "legendY": 225, "symbolType": "M-3,-0.07H-1.9V0.07H-3ZM-1.35,-0.07H-1V0.07H-1.35ZM1.05,-0.07H2.3V0.07H1.05ZM0,-0.9L0.85,0.6L-0.85,0.6Z"}}}}
      ]
    },
    {
      "width": 501, "height": 260,
      "title": {"text": "D", "offset": -21},
      "encoding": {
        "x": {"field": "time", "type": "ordinal", "scale": {"type": "point", "domain": ["intact", "2w", "1m", "2m", "3m", "5m"], "padding": 1}, "axis": {"title": "Time after injury", "titleFontSize": 26, "titlePadding": 27}}
      },
      "layer": [
        {"data": {"name": "means"}, "transform": [{"filter": "datum.panel == 'D'"}], "mark": {"type": "rule", "color": "#222", "strokeWidth": 1.4},
          "encoding": {"y": {"field": "lo", "type": "quantitative", "axis": {"title": ["Speed", "of locomotion [cm/s]"], "titleY": 119, "values": [16.65, 20, 30, 40, 50, 60], "labelOverlap": false, "labelExpr": "datum.value < 19 ? '//' : datum.label", "labelAlign": {"condition": {"test": "datum.value < 19", "value": "center"}, "value": "right"}, "labelPadding": {"condition": {"test": "datum.value < 19", "value": -5}, "value": 8}, "labelFontSize": {"condition": {"test": "datum.value < 19", "value": 24}, "value": 20}, "tickOpacity": {"condition": {"test": "datum.value < 19", "value": 0}, "value": 1}, "domainDash": [14, 18, 1000]}}, "y2": {"field": "hi"}}},
        {"data": {"name": "means"}, "transform": [{"filter": "datum.panel == 'D'"}], "mark": {"type": "tick", "color": "#222", "thickness": 1.4, "size": 11, "opacity": 1},
          "encoding": {"y": {"field": "lo", "type": "quantitative", "axis": {"title": ["Speed", "of locomotion [cm/s]"], "titleY": 119, "values": [16.65, 20, 30, 40, 50, 60], "labelOverlap": false, "labelExpr": "datum.value < 19 ? '//' : datum.label", "labelAlign": {"condition": {"test": "datum.value < 19", "value": "center"}, "value": "right"}, "labelPadding": {"condition": {"test": "datum.value < 19", "value": -5}, "value": 8}, "labelFontSize": {"condition": {"test": "datum.value < 19", "value": 24}, "value": 20}, "tickOpacity": {"condition": {"test": "datum.value < 19", "value": 0}, "value": 1}, "domainDash": [14, 18, 1000]}}}},
        {"data": {"name": "means"}, "transform": [{"filter": "datum.panel == 'D'"}], "mark": {"type": "tick", "color": "#222", "thickness": 1.4, "size": 11, "opacity": 1},
          "encoding": {"y": {"field": "hi", "type": "quantitative", "axis": {"title": ["Speed", "of locomotion [cm/s]"], "titleY": 119, "values": [16.65, 20, 30, 40, 50, 60], "labelOverlap": false, "labelExpr": "datum.value < 19 ? '//' : datum.label", "labelAlign": {"condition": {"test": "datum.value < 19", "value": "center"}, "value": "right"}, "labelPadding": {"condition": {"test": "datum.value < 19", "value": -5}, "value": 8}, "labelFontSize": {"condition": {"test": "datum.value < 19", "value": 24}, "value": 20}, "tickOpacity": {"condition": {"test": "datum.value < 19", "value": 0}, "value": 1}, "domainDash": [14, 18, 1000]}}}},
        {"data": {"name": "means"}, "transform": [{"filter": "datum.panel == 'D'"}], "mark": {"type": "line", "color": "black", "strokeWidth": 1.2},
          "encoding": {"y": {"field": "mean", "type": "quantitative", "axis": {"title": ["Speed", "of locomotion [cm/s]"], "titleY": 119, "values": [16.65, 20, 30, 40, 50, 60], "labelOverlap": false, "labelExpr": "datum.value < 19 ? '//' : datum.label", "labelAlign": {"condition": {"test": "datum.value < 19", "value": "center"}, "value": "right"}, "labelPadding": {"condition": {"test": "datum.value < 19", "value": -5}, "value": 8}, "labelFontSize": {"condition": {"test": "datum.value < 19", "value": 24}, "value": 20}, "tickOpacity": {"condition": {"test": "datum.value < 19", "value": 0}, "value": 1}, "domainDash": [14, 18, 1000]}}, "order": {"value": null}}},
        {"data": {"name": "means"}, "transform": [{"filter": "datum.panel == 'D'"}], "mark": {"type": "point", "filled": true, "color": "black", "opacity": 1, "shape": "circle", "size": 320},
          "encoding": {"y": {"field": "mean", "type": "quantitative", "scale": {"domain": [12.36, 60], "range": [260, 8], "nice": false, "zero": false}, "axis": {"title": ["Speed", "of locomotion [cm/s]"], "titleY": 119, "values": [16.65, 20, 30, 40, 50, 60], "labelOverlap": false, "labelExpr": "datum.value < 19 ? '//' : datum.label", "labelAlign": {"condition": {"test": "datum.value < 19", "value": "center"}, "value": "right"}, "labelPadding": {"condition": {"test": "datum.value < 19", "value": -5}, "value": 8}, "labelFontSize": {"condition": {"test": "datum.value < 19", "value": 24}, "value": 20}, "tickOpacity": {"condition": {"test": "datum.value < 19", "value": 0}, "value": 1}, "domainDash": [14, 18, 1000]}}}},
        {"data": {"name": "sigbars"}, "transform": [{"filter": "datum.panel == 'D'"}], "mark": {"type": "rule", "color": "black", "strokeWidth": 2.2},
          "encoding": {"x": {"field": "from", "type": "ordinal"}, "x2": {"field": "to"}, "y": {"datum": 64.4, "type": "quantitative", "axis": {"title": ["Speed", "of locomotion [cm/s]"], "titleY": 119, "values": [16.65, 20, 30, 40, 50, 60], "labelOverlap": false, "labelExpr": "datum.value < 19 ? '//' : datum.label", "labelAlign": {"condition": {"test": "datum.value < 19", "value": "center"}, "value": "right"}, "labelPadding": {"condition": {"test": "datum.value < 19", "value": -5}, "value": 8}, "labelFontSize": {"condition": {"test": "datum.value < 19", "value": 24}, "value": 20}, "tickOpacity": {"condition": {"test": "datum.value < 19", "value": 0}, "value": 1}, "domainDash": [14, 18, 1000]}}}},
        {"data": {"name": "sigmarks"}, "transform": [{"filter": "datum.panel == 'D'"}], "mark": {"type": "rule", "color": "black", "strokeWidth": 1.5},
          "encoding": {"y": {"datum": 64.4, "type": "quantitative", "axis": {"title": ["Speed", "of locomotion [cm/s]"], "titleY": 119, "values": [16.65, 20, 30, 40, 50, 60], "labelOverlap": false, "labelExpr": "datum.value < 19 ? '//' : datum.label", "labelAlign": {"condition": {"test": "datum.value < 19", "value": "center"}, "value": "right"}, "labelPadding": {"condition": {"test": "datum.value < 19", "value": -5}, "value": 8}, "labelFontSize": {"condition": {"test": "datum.value < 19", "value": 24}, "value": 20}, "tickOpacity": {"condition": {"test": "datum.value < 19", "value": 0}, "value": 1}, "domainDash": [14, 18, 1000]}}, "y2": {"datum": 63.45}}},
        {"data": {"name": "sigmarks"}, "transform": [{"filter": "datum.panel == 'D'"}], "mark": {"type": "text", "fontSize": 20, "baseline": "alphabetic", "dx": 3, "color": "black"},
          "encoding": {"y": {"datum": 64.4, "type": "quantitative", "axis": {"title": ["Speed", "of locomotion [cm/s]"], "titleY": 119, "values": [16.65, 20, 30, 40, 50, 60], "labelOverlap": false, "labelExpr": "datum.value < 19 ? '//' : datum.label", "labelAlign": {"condition": {"test": "datum.value < 19", "value": "center"}, "value": "right"}, "labelPadding": {"condition": {"test": "datum.value < 19", "value": -5}, "value": 8}, "labelFontSize": {"condition": {"test": "datum.value < 19", "value": 24}, "value": 20}, "tickOpacity": {"condition": {"test": "datum.value < 19", "value": 0}, "value": 1}, "domainDash": [14, 18, 1000]}}, "text": {"field": "stars", "type": "nominal"}}}
      ]
    }
  ]
}
